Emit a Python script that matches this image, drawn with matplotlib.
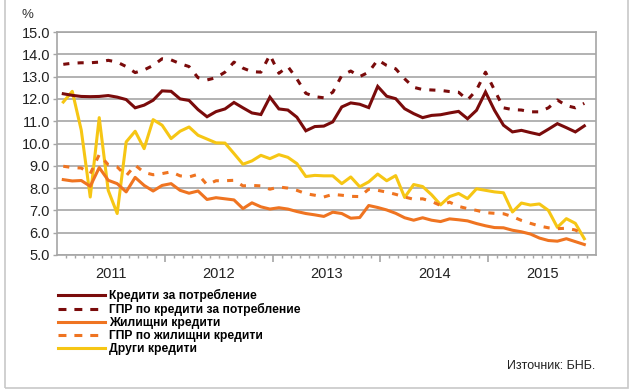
import numpy as np
import matplotlib
matplotlib.use("Agg")
import matplotlib.pyplot as plt
from matplotlib.lines import Line2D
from matplotlib.patches import Rectangle
from matplotlib.transforms import blended_transform_factory

plt.rcParams['font.family'] = ['Liberation Sans', 'DejaVu Sans']

years = ["2011", "2012", "2013", "2014", "2015"]

consumer = [12.23, 12.16, 12.11, 12.10, 12.11, 12.15, 12.08, 11.97, 11.60, 11.72,
            11.94, 12.36, 12.34, 12.00, 11.93, 11.52, 11.20, 11.43, 11.55, 11.84,
            11.60, 11.37, 11.30, 12.08, 11.55, 11.50, 11.18, 10.57, 10.76, 10.78,
            10.97, 11.64, 11.82, 11.76, 11.61, 12.56, 12.12, 12.01, 11.56, 11.34,
            11.16, 11.26, 11.29, 11.37, 11.44, 11.11, 11.49, 12.31, 11.49, 10.82,
            10.52, 10.59, 10.49, 10.40, 10.64, 10.89, 10.71, 10.52, 10.79]

consumer_apr = [13.55, 13.60, 13.62, 13.62, 13.65, 13.73, 13.65, 13.45, 13.18, 13.30,
                13.50, 13.80, 13.75, 13.58, 13.45, 12.95, 12.85, 12.95, 13.20, 13.65,
                13.38, 13.22, 13.20, 13.97, 13.15, 13.45, 12.90, 12.25, 12.10, 12.05,
                12.30, 13.05, 13.25, 13.00, 13.20, 13.75, 13.50, 13.35, 12.90, 12.52,
                12.42, 12.40, 12.38, 12.33, 12.30, 11.95, 12.40, 13.20, 12.40, 11.60,
                11.52, 11.50, 11.42, 11.42, 11.60, 11.95, 11.70, 11.60, 11.80]

housing = [8.38, 8.32, 8.34, 8.08, 8.92, 8.35, 8.20, 7.83, 8.48, 8.12,
           7.87, 8.12, 8.20, 7.90, 7.77, 7.87, 7.49, 7.57, 7.52, 7.47,
           7.08, 7.34, 7.16, 7.06, 7.12, 7.06, 6.95, 6.86, 6.80, 6.73,
           6.92, 6.86, 6.65, 6.68, 7.22, 7.13, 7.02, 6.87, 6.67, 6.56,
           6.67, 6.56, 6.50, 6.62, 6.58, 6.53, 6.41, 6.31, 6.23, 6.22,
           6.11, 6.04, 5.94, 5.76, 5.65, 5.62, 5.73, 5.60, 5.47]

housing_apr = [8.98, 8.92, 8.90, 8.65, 9.50, 9.05, 8.95, 8.55, 9.03, 8.70,
               8.60, 8.65, 8.73, 8.55, 8.50, 8.62, 8.15, 8.33, 8.33, 8.35,
               8.10, 8.12, 8.10, 7.95, 8.05, 8.00, 7.90, 7.75, 7.68, 7.60,
               7.72, 7.68, 7.63, 7.62, 7.95, 7.90, 7.82, 7.72, 7.60, 7.50,
               7.52, 7.40, 7.22, 7.37, 7.18, 7.08, 7.00, 6.90, 6.87, 6.85,
               6.72, 6.55, 6.42, 6.30, 6.22, 6.18, 6.20, 6.12, 5.90]

other = [11.86, 12.34, 10.60, 7.60, 11.16, 7.90, 6.86, 10.07, 10.55, 9.77,
         11.07, 10.82, 10.22, 10.55, 10.74, 10.37, 10.20, 10.03, 10.02, 9.55,
         9.07, 9.22, 9.47, 9.32, 9.50, 9.38, 9.10, 8.52, 8.57, 8.55,
         8.55, 8.20, 8.50, 8.06, 8.28, 8.63, 8.33, 8.56, 7.58, 8.16,
         8.07, 7.70, 7.25, 7.62, 7.76, 7.53, 7.97, 7.90, 7.83, 7.79,
         6.93, 7.33, 7.24, 7.29, 7.00, 6.24, 6.63, 6.42, 5.73]

labels = ["Кредити за потребление", "ГПР по кредити за потребление",
          "Жилищни кредити", "ГПР по жилищни кредити", "Други кредити"]

DARK = "#7A0B0B"
ORANGE = "#EF7421"
YELLOW = "#F6C614"
GRID = "#A6A6A6"

fig = plt.figure(figsize=(6.35, 3.92), dpi=100)
ax = fig.add_axes([57/635, 1-255/392, 539/635, 223/392])

n = len(consumer)
xs = np.arange(n) + 0.7
lw = 2.2
ax.plot(xs, consumer, color=DARK, lw=lw, solid_joinstyle='miter', zorder=5)
ax.plot(xs, consumer_apr, color=DARK, lw=lw, dashes=(2.0, 2.7), dash_capstyle='butt', zorder=5)
ax.plot(xs, housing, color=ORANGE, lw=lw, zorder=4)
ax.plot(xs, housing_apr, color=ORANGE, lw=lw, dashes=(2.0, 2.7), dash_capstyle='butt', zorder=4)
ax.plot(xs, other, color=YELLOW, lw=lw, zorder=3)

ax.set_xlim(0, 12*len(years))
ax.set_ylim(5, 15)
ax.set_yticks(np.arange(5, 15.01, 1.0))
ax.set_yticklabels([f"{v:.1f}" for v in np.arange(5, 15.01, 1.0)], fontsize=10.5)
ax.yaxis.grid(True, color=GRID, lw=1.2)
ax.set_axisbelow(True)

ax.set_xticks([12*k for k in range(1, len(years))])
ax.set_xticks([m for m in range(1, 12*len(years)) if m % 12 != 0], minor=True)
ax.set_xticklabels([])
ax.tick_params(axis='x', which='major', length=5, width=1.2, color=GRID, direction='out')
ax.tick_params(axis='x', which='minor', length=2.5, width=1.0, color=GRID, direction='out')
ax.tick_params(axis='y', length=3, width=1.0, color=GRID, pad=2, labelcolor="#222222")

for s in ax.spines.values():
    s.set_color(GRID)
    s.set_linewidth(1.2)

trans = blended_transform_factory(ax.transData, ax.transAxes)
for k, yr in enumerate(years):
    ax.text(12*k + 6, -0.085, yr, transform=trans, ha='center', va='center',
            fontsize=10.5, color="#222222")

fig.text(21/635, 1-15/392, "%", fontsize=9.5, color="#333333", va='center', ha='left')

handles = [
    Line2D([], [], color=DARK, lw=lw),
    Line2D([], [], color=DARK, lw=lw, dashes=(2.6, 2.6), dash_capstyle='butt'),
    Line2D([], [], color=ORANGE, lw=lw),
    Line2D([], [], color=ORANGE, lw=lw, dashes=(2.6, 2.6), dash_capstyle='butt'),
    Line2D([], [], color=YELLOW, lw=lw),
]
leg = fig.legend(handles, labels, loc='upper left', bbox_to_anchor=(58/635, 1-289/392),
                 frameon=False, borderpad=0, borderaxespad=0, handlelength=3.9,
                 handletextpad=0.35, labelspacing=0.08,
                 prop={'family': ['Liberation Sans', 'DejaVu Sans'], 'weight': 'bold', 'size': 8.7})

fig.text(595/635, 1-366/392, "Източник: БНБ.", fontsize=9, ha='right', va='center', color="#222222")

fig.add_artist(Rectangle((4.5/635, 1-388/392), 623/635, 400/392, transform=fig.transFigure,
                         fill=False, edgecolor="#C8C8C8", lw=1.2))

fig.savefig("out.png", dpi=100)
